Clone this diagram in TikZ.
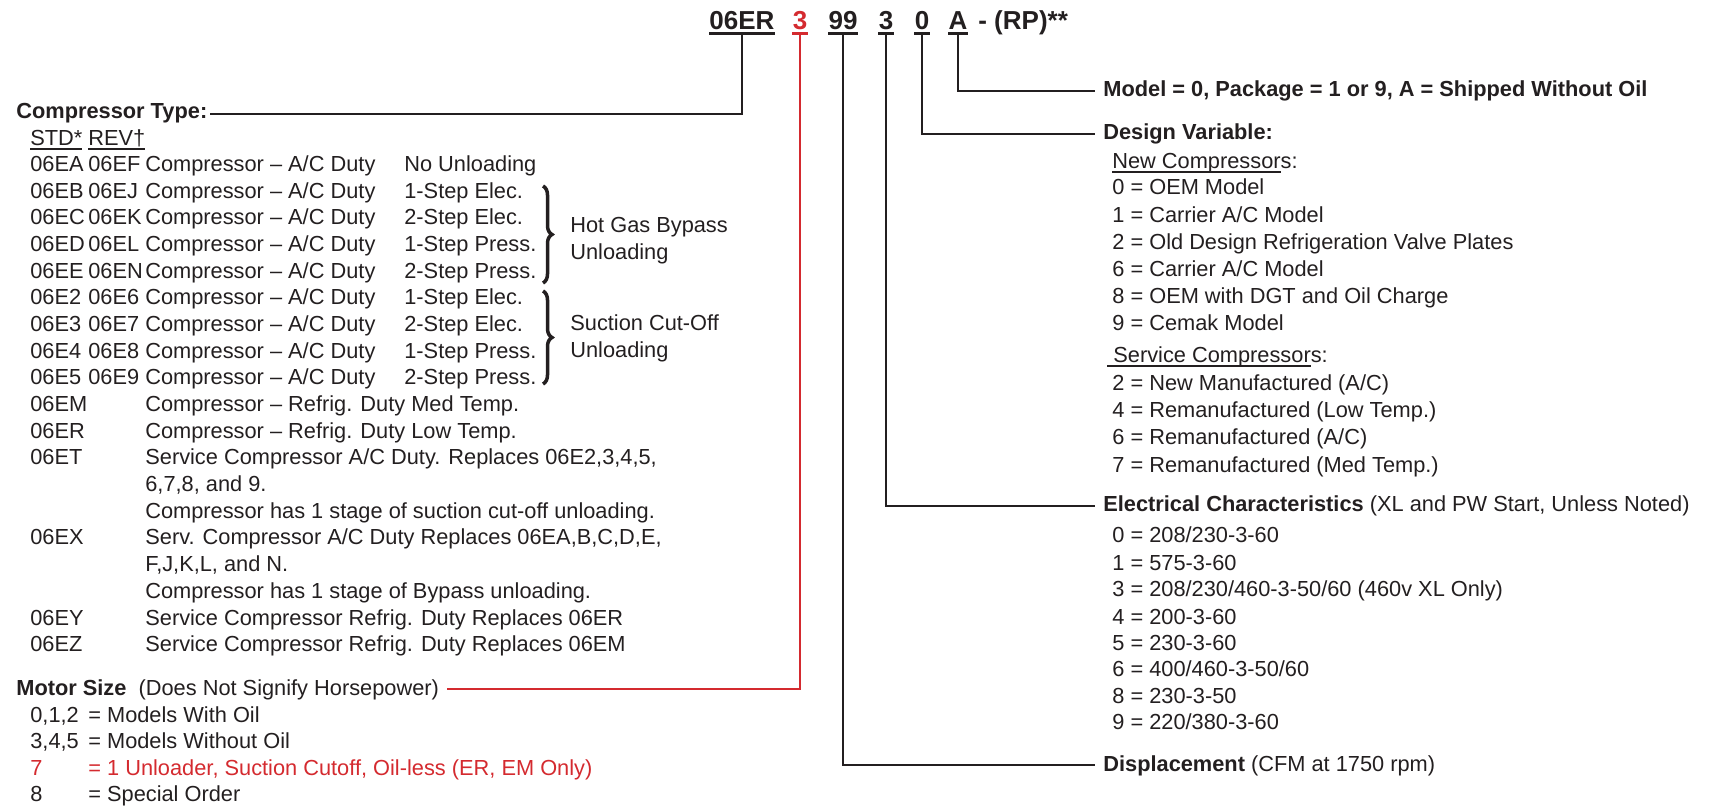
\documentclass[tikz,border=0pt]{standalone}
\usepackage{fontspec}
\setmainfont{Liberation Sans}
\usetikzlibrary{decorations.pathreplacing}
\definecolor{inkblack}{HTML}{231F20}
\definecolor{motorred}{HTML}{D42A2F}
\newcommand{\baseul}[1]{\leavevmode\setbox0\hbox{#1}\rlap{\rule[-2pt]{\wd0}{0.6pt}}\box0}
\tikzset{
  txt/.style={anchor=base west,inner sep=0pt,text=inkblack,font=\fontsize{12.4}{15}\selectfont},
  headtxt/.style={txt,font=\fontsize{12.4}{15}\selectfont\bfseries},
  codetxt/.style={anchor=base,inner sep=0pt,text=inkblack,font=\fontsize{14.8}{18}\selectfont\bfseries},
  codeline/.style={draw=inkblack,line width=0.5mm},
  leader/.style={draw=inkblack,line width=0.42mm},
  unloadbrace/.style={draw=inkblack,line width=0.7mm,decorate,decoration={brace,amplitude=1.8mm}},
}
\begin{document}
\begin{tikzpicture}[x=0.2mm,y=-0.2mm]
  \useasboundingbox (0,0) rectangle (1718,807);

  % Model number
  \node[codetxt] (cType) at (742,30) {06ER};
  \node[codetxt,text=motorred] (cMotor) at (800,30) {3};
  \node[codetxt] (cDisp) at (843,30) {99};
  \node[codetxt] (cElec) at (886,30) {3};
  \node[codetxt] (cDesign) at (922,30) {0};
  \node[codetxt] (cModel) at (958,30) {A};
  \node[codetxt,anchor=base west] (cSuffix) at (978,30) {- (RP)**};
  \foreach \c in {cType,cDisp,cElec,cDesign,cModel}
    \draw[codeline] ([yshift=-0.6mm]\c.south west) -- ([yshift=-0.6mm]\c.south east);
  \draw[codeline,draw=motorred] ([yshift=-0.6mm]cMotor.south west) -- ([yshift=-0.6mm]cMotor.south east);

  % Compressor type
  \node[headtxt] (compType) at (16,119) {Compressor Type:};
  \node[txt] (stdHead) at (30,146) {\baseul{STD*}};
  \node[txt] (revHead) at (88,146) {\baseul{REV†}};
  \foreach \yy/\ca/\cb/\cd [count=\i] in {
    172/06EA/06EF/No Unloading,
    199/06EB/06EJ/1-Step Elec.,
    225/06EC/06EK/2-Step Elec.,
    252/06ED/06EL/1-Step Press.,
    279/06EE/06EN/2-Step Press.,
    305/06E2/06E6/1-Step Elec.,
    332/06E3/06E7/2-Step Elec.,
    359/06E4/06E8/1-Step Press.,
    385/06E5/06E9/2-Step Press.}{
    \node[txt] (stdCode\i) at (30,\yy) {\ca};
    \node[txt] (revCode\i) at (88,\yy) {\cb};
    \node[txt] (duty\i) at (145,\yy) {Compressor -- A/C Duty};
    \node[txt] (step\i) at (404,\yy) {\cd};
  }
  \draw[unloadbrace] (543,186) -- (543,283);
  \draw[unloadbrace] (543,291) -- (543,384);
  \node[txt] (hotGas) at (570,233) {Hot Gas Bypass};
  \node[txt] (hotGasB) at (570,260) {Unloading};
  \node[txt] (suction) at (570,331) {Suction Cut-Off};
  \node[txt] (suctionB) at (570,358) {Unloading};

  \node[txt] (codeEM) at (30,412) {06EM};
  \node[txt] (descEM) at (145,412) {Compressor -- Refrig. Duty Med Temp.};
  \node[txt] (codeER) at (30,439) {06ER};
  \node[txt] (descER) at (145,439) {Compressor -- Refrig. Duty Low Temp.};
  \node[txt] (codeET) at (30,465) {06ET};
  \node[txt] (descET) at (145,465) {Service Compressor A/C Duty. Replaces 06E2,3,4,5,};
  \node[txt] (descETb) at (145,492) {6,7,8, and 9.};
  \node[txt] (descETc) at (145,519) {Compressor has 1 stage of suction cut-off unloading.};
  \node[txt] (codeEX) at (30,545) {06EX};
  \node[txt] (descEX) at (145,545) {Serv. Compressor A/C Duty Replaces 06EA,B,C,D,E,};
  \node[txt] (descEXb) at (145,572) {F,J,K,L, and N.};
  \node[txt] (descEXc) at (145,598) {Compressor has 1 stage of Bypass unloading.};
  \node[txt] (codeEY) at (30,625) {06EY};
  \node[txt] (descEY) at (145,625) {Service Compressor Refrig. Duty Replaces 06ER};
  \node[txt] (codeEZ) at (30,651) {06EZ};
  \node[txt] (descEZ) at (145,651) {Service Compressor Refrig. Duty Replaces 06EM};

  % Motor size
  \node[txt] (motorHead) at (16,695) {\textbf{Motor Size}\ \ (Does Not Signify Horsepower)};
  \node[txt] (motorA) at (30,722) {0,1,2};
  \node[txt] (motorAd) at (88,722) {= Models With Oil};
  \node[txt] (motorB) at (30,748) {3,4,5};
  \node[txt] (motorBd) at (88,748) {= Models Without Oil};
  \node[txt,text=motorred] (motorC) at (30,775) {7};
  \node[txt,text=motorred] (motorCd) at (88,775) {= 1 Unloader, Suction Cutoff, Oil-less (ER, EM Only)};
  \node[txt] (motorD) at (30,801) {8};
  \node[txt] (motorDd) at (88,801) {= Special Order};

  % Right column
  \node[headtxt] (modelHead) at (1103,97) {Model = 0, Package = 1 or 9, A = Shipped Without Oil};
  \node[headtxt] (designHead) at (1103,140) {Design Variable:};
  \node[txt] (newHead) at (1112,169) {\baseul{New Compressor}s:};
  \foreach \yy/\t [count=\i] in {195/{0 = OEM Model},223/{1 = Carrier A/C Model},
    250/{2 = Old Design Refrigeration Valve Plates},277/{6 = Carrier A/C Model},
    304/{8 = OEM with DGT and Oil Charge},331/{9 = Cemak Model}}
    \node[txt] (newItem\i) at (1112,\yy) {\t};
  \node[txt] (servHead) at (1107,363) {\baseul{\ Service Compressor}s:};
  \foreach \yy/\t [count=\i] in {391/{2 = New Manufactured (A/C)},418/{4 = Remanufactured (Low Temp.)},
    445/{6 = Remanufactured (A/C)},473/{7 = Remanufactured (Med Temp.)}}
    \node[txt] (servItem\i) at (1112,\yy) {\t};
  \node[txt] (elecHead) at (1103,512) {\textbf{Electrical Characteristics} (XL and PW Start, Unless Noted)};
  \foreach \yy/\t [count=\i] in {543/{0 = 208/230-3-60},570/{1 = 575-3-60},
    596/{3 = 208/230/460-3-50/60 (460v XL Only)},624/{4 = 200-3-60},650/{5 = 230-3-60},
    676/{6 = 400/460-3-50/60},703/{8 = 230-3-50},729/{9 = 220/380-3-60}}
    \node[txt] (elecItem\i) at (1112,\yy) {\t};
  \node[txt] (dispHead) at (1103,771) {\textbf{Displacement} (CFM at 1750 rpm)};

  % Leaders
  \draw[leader] ([yshift=-0.6mm]cType.south) |- ([xshift=0.5mm]compType.east);
  \draw[leader,draw=motorred] ([yshift=-0.6mm]cMotor.south) |- ([xshift=1.6mm]motorHead.east);
  \draw[leader] ([yshift=-0.6mm]cDisp.south) |- ([xshift=-1.6mm]dispHead.west);
  \draw[leader] ([yshift=-0.6mm]cElec.south) |- ([xshift=-1.6mm]elecHead.west);
  \draw[leader] ([yshift=-0.6mm]cDesign.south) |- ([xshift=-1.6mm]designHead.west);
  \draw[leader] ([yshift=-0.6mm]cModel.south) |- ([xshift=-1.6mm]modelHead.west);
\end{tikzpicture}
\end{document}
